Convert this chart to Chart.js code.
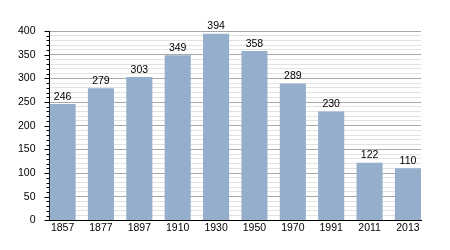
<!DOCTYPE html>
<html>
<head>
<meta charset="utf-8">
<script src="https://cdn.jsdelivr.net/npm/chart.js@4/dist/chart.umd.min.js"></script>
<style>
  html, body { margin: 0; padding: 0; background: #fff; }
  #wrap { width: 450px; height: 250px; }
</style>
</head>
<body>
<div id="wrap"><canvas id="myChart" width="450" height="250"></canvas></div>
<script>
// data
const years = ['1857', '1877', '1897', '1910', '1930', '1950', '1970', '1991', '2011', '2013'];
const population = [246, 279, 303, 349, 394, 358, 289, 230, 122, 110];
const yMin = 0;
const yMax = 400;
const minorStep = 10;
const majorStep = 50;

const FONT = '"Liberation Sans", Arial, sans-serif';
const barShare = 0.68;   // bar width / slot width

// numbers over the bars
const barLabels = {
    id: 'barLabels',
    afterDatasetsDraw(chart) {
        const ctx = chart.ctx;
        const meta = chart.getDatasetMeta(0);
        ctx.save();
        ctx.font = '10.5px ' + FONT;
        ctx.fillStyle = '#000';
        ctx.textAlign = 'center';
        ctx.textBaseline = 'bottom';
        meta.data.forEach((bar, i) => {
            ctx.fillText(population[i], bar.x, bar.y - 2);
        });
        ctx.restore();
    }
};

// tick marks on the y axis: long at every 50, short at every 10
const yTickMarks = {
    id: 'yTickMarks',
    afterDraw(chart) {
        const ctx = chart.ctx;
        const y = chart.scales.y;
        const left = chart.chartArea.left;
        ctx.save();
        ctx.strokeStyle = '#000';
        ctx.lineWidth = 1;
        for (let v = yMin; v <= yMax; v += minorStep) {
            const py = Math.round(y.getPixelForValue(v)) + 0.5;
            const len = v % majorStep === 0 ? 5 : 3;
            ctx.beginPath();
            ctx.moveTo(left - len, py);
            ctx.lineTo(left, py);
            ctx.stroke();
        }
        ctx.restore();
    }
};

window.addEventListener('load', () => {
    const ctx = document.getElementById('myChart').getContext('2d');
    new Chart(ctx, {
        type: 'bar',
        data: {
            datasets: [{
                data: population.map((v, i) => ({ x: i, y: v })),
                backgroundColor: '#94aecb',
                borderWidth: 0,
                barPercentage: barShare,
                categoryPercentage: 1
            }]
        },
        options: {
            responsive: false,
            animation: false,
            layout: { padding: { left: 4, right: 29, top: 31, bottom: 15 } },
            plugins: { legend: { display: false }, tooltip: { enabled: false } },
            scales: {
                x: {
                    type: 'linear',
                    offset: false,
                    min: -barShare / 2,
                    max: years.length - 1 + barShare / 2,
                    grid: { display: false, drawTicks: false, offset: false },
                    border: { color: '#000', width: 1 },
                    ticks: {
                        stepSize: 1,
                        includeBounds: false,
                        autoSkip: false,
                        color: '#000',
                        padding: 1,
                        maxRotation: 0,
                        font: { family: FONT, size: 10.5 },
                        callback: v => years[v]
                    }
                },
                y: {
                    min: yMin,
                    max: yMax,
                    border: { color: '#000', width: 1 },
                    grid: {
                        color: c => c.tick.value === 0 ? '#000' : (c.tick.value % majorStep === 0 ? '#a8a8a8' : '#e2e2e2'),
                        drawTicks: false
                    },
                    ticks: {
                        stepSize: minorStep,
                        autoSkip: false,
                        color: '#000',
                        padding: 14,
                        font: { family: FONT, size: 10.5 },
                        callback: v => v % majorStep === 0 ? v : ''
                    }
                }
            }
        },
        plugins: [barLabels, yTickMarks]
    });
});
</script>
</body>
</html>
